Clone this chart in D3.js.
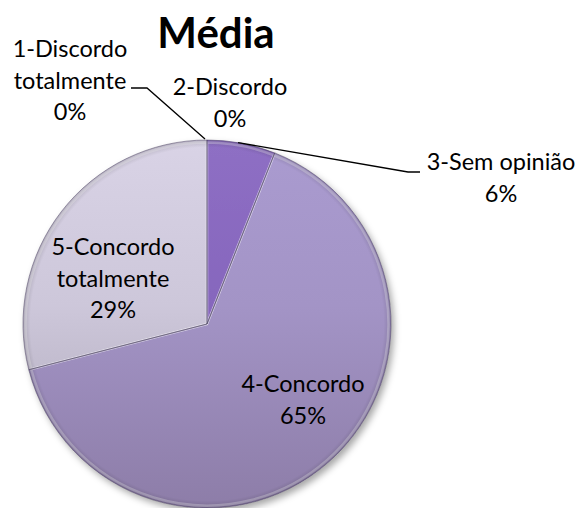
<!DOCTYPE html>
<html>
<head>
<meta charset="utf-8">
<script src="https://cdn.jsdelivr.net/npm/d3@7/dist/d3.min.js"></script>
<style>
  html, body { margin: 0; padding: 0; background: #ffffff; }
  svg { display: block; }
</style>
</head>
<body>
<svg id="chart" width="582" height="508"></svg>
<script>
// ---- data ----
const title = "Média";
const categories = ["1-Discordo totalmente", "2-Discordo", "3-Sem opinião", "4-Concordo", "5-Concordo totalmente"];
const values = [0, 0, 6, 65, 29];
const labelLines = [["1-Discordo", "totalmente"], ["2-Discordo"], ["3-Sem opinião"], ["4-Concordo"], ["5-Concordo", "totalmente"]];

// ---- layout / style ----
const W = 582, H = 508;
const cx = 207, cy = 324, R = 184;
const fontFamily = "Lato, 'Open Sans', sans-serif";
const labelSize = 23.5, lineH = 31.5;
const colorsTop = ["#b9a9d8", "#a48fd0", "#8e6fc4", "#aa9bd0", "#d9d3e6"];
const colorsBot = ["#8f7fb0", "#7e63b6", "#6c4ca6", "#8d7da8", "#a9a3b5"];
// label block: center x, first baseline y, leader line points (in px)
const labelPos = [
  { x: 70, y: 57, leader: [[131, 88], [147, 88]] },
  { x: 230, y: 95, leader: null },
  { x: 501, y: 170, leader: [[420, 172], [408, 172]] },
  { x: 303, y: 392, leader: null },
  { x: 113, y: 255, leader: null }
];

const svg = d3.select("#chart");
const defs = svg.append("defs");

const f = defs.append("filter").attr("id", "shadow")
  .attr("x", "-20%").attr("y", "-20%").attr("width", "140%").attr("height", "140%");
f.append("feDropShadow").attr("dx", 3).attr("dy", 4).attr("stdDeviation", 3.5)
  .attr("flood-color", "#000").attr("flood-opacity", 0.35);

// gradients in the pie group's local coordinates (origin = pie centre)
values.forEach((v, i) => {
  const g = defs.append("linearGradient").attr("id", "grad" + i)
    .attr("gradientUnits", "userSpaceOnUse")
    .attr("x1", 0).attr("y1", -R).attr("x2", 0).attr("y2", R);
  g.append("stop").attr("offset", "0%").attr("stop-color", colorsTop[i]);
  g.append("stop").attr("offset", "45%").attr("stop-color", d3.interpolateRgb(colorsTop[i], colorsBot[i])(0.25));
  g.append("stop").attr("offset", "100%").attr("stop-color", colorsBot[i]);
});
const rg = defs.append("radialGradient").attr("id", "edge")
  .attr("gradientUnits", "userSpaceOnUse")
  .attr("cx", 0).attr("cy", 0).attr("r", R);
rg.append("stop").attr("offset", "0%").attr("stop-color", "#000").attr("stop-opacity", 0);
rg.append("stop").attr("offset", "96%").attr("stop-color", "#000").attr("stop-opacity", 0);
rg.append("stop").attr("offset", "100%").attr("stop-color", "#000").attr("stop-opacity", 0.15);

const pie = d3.pie().sort(null).value(d => d);
const arcs = pie(values);
const arc = d3.arc().innerRadius(0).outerRadius(R);
const arcInner = d3.arc().innerRadius(0).outerRadius(R - 2.5);

const pg = svg.append("g").attr("transform", `translate(${cx},${cy})`);
const shadowG = pg.append("g").attr("filter", "url(#shadow)");
shadowG.selectAll("path.slice").data(arcs).enter().append("path")
  .attr("class", "slice")
  .attr("d", arc)
  .attr("fill", (d, i) => `url(#grad${i})`);
pg.selectAll("path.hl").data(arcs.filter(d => d.value > 0)).enter().append("path")
  .attr("d", arcInner)
  .attr("fill", "none")
  .attr("stroke", "#ffffff").attr("stroke-opacity", 0.3).attr("stroke-width", 2.5)
  .attr("stroke-linejoin", "round");
pg.append("circle").attr("r", R).attr("fill", "url(#edge)");
pg.selectAll("path.edge").data(arcs.filter(d => d.value > 0)).enter().append("path")
  .attr("d", arc)
  .attr("fill", "none")
  .attr("stroke", "#4a4060").attr("stroke-opacity", 0.5).attr("stroke-width", 1);

// leader lines
const top0 = [cx + R * Math.sin(arcs[0].startAngle) - 2, cy - R * Math.cos(arcs[0].startAngle) - 1];
const mid3 = (arcs[2].startAngle + arcs[2].endAngle) / 2;
const p3 = [cx + R * Math.sin(mid3 * 0.9), cy - R * Math.cos(mid3 * 0.9)];
const lg = svg.append("g").attr("fill", "none").attr("stroke", "#000").attr("stroke-width", 1.3);
const line = d3.line();
lg.append("path").attr("d", line([labelPos[0].leader[0], labelPos[0].leader[1], top0]));
lg.append("path").attr("d", line([p3, labelPos[2].leader[1], labelPos[2].leader[0]]));

// labels
const fmt = d3.format(".0%");
const tg = svg.append("g").attr("font-family", fontFamily).attr("font-size", labelSize)
  .attr("fill", "#000").attr("text-anchor", "middle");
arcs.forEach((d, i) => {
  const lines = labelLines[i].concat([fmt(values[i] / 100)]);
  const t = tg.append("text").attr("x", labelPos[i].x).attr("y", labelPos[i].y);
  lines.forEach((s, j) => {
    t.append("tspan").attr("x", labelPos[i].x).attr("dy", j === 0 ? 0 : lineH).text(s);
  });
});

// title
svg.append("text").attr("x", 216).attr("y", 48)
  .attr("text-anchor", "middle")
  .attr("font-family", fontFamily).attr("font-weight", "bold").attr("font-size", 42)
  .attr("fill", "#000").text(title);
</script>
</body>
</html>
